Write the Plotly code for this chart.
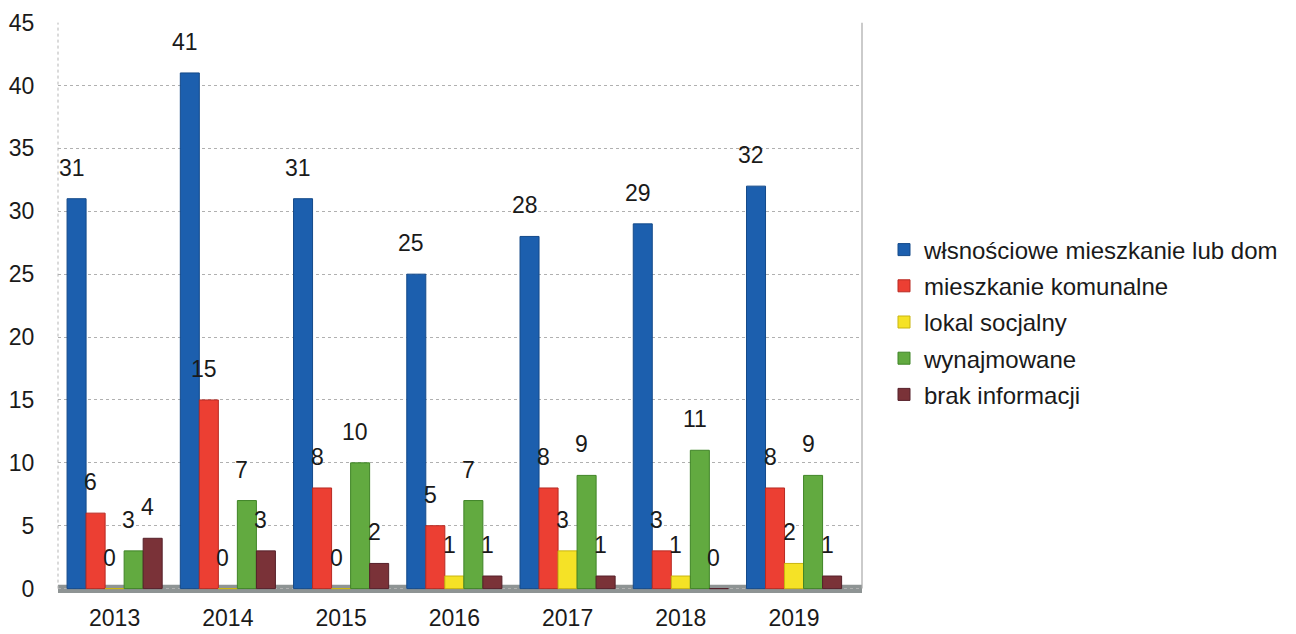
import plotly.graph_objects as go

years = ["2013", "2014", "2015", "2016", "2017", "2018", "2019"]
series_names = [
    "włsnościowe mieszkanie lub dom",
    "mieszkanie komunalne",
    "lokal socjalny",
    "wynajmowane",
    "brak informacji",
]
wlasnosciowe = [31, 41, 31, 25, 28, 29, 32]
komunalne = [6, 15, 8, 5, 8, 3, 8]
socjalny = [0, 0, 0, 1, 3, 1, 2]
wynajmowane = [3, 7, 10, 7, 9, 11, 9]
brak = [4, 3, 2, 1, 1, 0, 1]
y_ticks = [0, 5, 10, 15, 20, 25, 30, 35, 40, 45]

all_values = [wlasnosciowe, komunalne, socjalny, wynajmowane, brak]
colors = ["#1c5fae", "#ec3f33", "#f5e226", "#62aa40", "#7a3238"]
line_colors = ["#144a8a", "#b82a22", "#c9b510", "#3f8426", "#55202a"]

FONT = "Liberation Sans, Arial, sans-serif"
W, H = 1288, 626  # page body has an 8px margin

fig = go.Figure()
for i, (name, vals) in enumerate(zip(series_names, all_values)):
    fig.add_trace(go.Bar(
        x=years, y=vals, name=name,
        marker=dict(color=colors[i], line=dict(color=line_colors[i], width=1)),
        legendgroup=name,
        hoverinfo="skip",
    ))

# data labels (placed above-left, like the 3D original)
slot = 19.0
annotations = []
for i, vals in enumerate(all_values):
    for j, v in enumerate(vals):
        annotations.append(dict(
            x=j, y=v, xref="x", yref="y",
            text=str(v), showarrow=False,
            xshift=(i - 2) * slot - 5, yshift=31,
            yanchor="middle", xanchor="center",
            font=dict(family=FONT, size=23, color="#1a1a1a"),
        ))

shapes = [
    # floor
    dict(type="rect", xref="paper", yref="y", x0=0, x1=1.0, y0=-0.35, y1=0.3,
         fillcolor="#8e9494", line=dict(width=0), layer="below"),
    # left wall (dotted)
    dict(type="line", xref="paper", yref="y", x0=0, x1=0, y0=0, y1=45,
         line=dict(color="#b5b5b5", width=1, dash="dot"), layer="below"),
    # right wall
    dict(type="line", xref="paper", yref="y", x0=1, x1=1, y0=0, y1=45,
         line=dict(color="#a8a8a8", width=1.2), layer="below"),
]

fig.update_layout(
    width=W, height=H,
    margin=dict(l=50, r=W - 854, t=14, b=41, autoexpand=False),
    paper_bgcolor="white", plot_bgcolor="white",
    barmode="group", bargap=0.16, bargroupgap=0.0,
    font=dict(family=FONT, color="#1a1a1a"),
    showlegend=True,
    legend=dict(
        xref="container", yref="container",
        x=876 / W, y=1 - 314 / H, xanchor="left", yanchor="middle",
        font=dict(family=FONT, size=24, color="#1a1a1a"),
        traceorder="grouped", tracegroupgap=2,
        itemwidth=30,
        bgcolor="rgba(0,0,0,0)",
    ),
    annotations=annotations,
    shapes=shapes,
)
fig.update_xaxes(
    type="category", range=[-0.5, 6.6], automargin=False,
    showgrid=False, zeroline=False, showline=False,
    ticks="outside", ticklen=4, tickcolor="rgba(0,0,0,0)",
    ticklabeloverflow="allow",
    tickfont=dict(family=FONT, size=23, color="#1a1a1a"),
)
fig.update_yaxes(
    range=[-0.35, 45.05], tickvals=y_ticks, automargin=False,
    showgrid=True, gridcolor="#b0b0b0", gridwidth=1, griddash="dot",
    zeroline=False, showline=False,
    ticks="outside", ticklen=18, tickcolor="rgba(0,0,0,0)",
    ticklabeloverflow="allow",
    tickfont=dict(family=FONT, size=23, color="#1a1a1a"),
)

fig.write_html("out.html")
